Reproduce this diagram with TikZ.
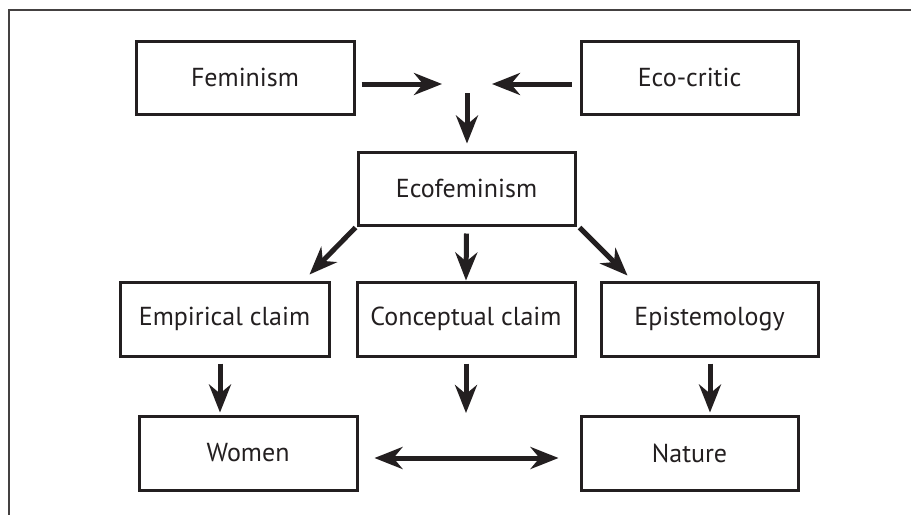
\documentclass[tikz,border=0pt]{standalone}
\usepackage{fontspec}
\setmainfont{PT Sans}
\usetikzlibrary{arrows.meta}
\definecolor{ink}{HTML}{231F20}
\begin{document}
\begin{tikzpicture}[x=1pt,y=-1pt,
  box/.style={draw=ink, line width=3pt, minimum width=218pt, minimum height=73pt,
    inner sep=0pt, font=\fontsize{26}{31}\selectfont, text=ink},
  arr/.style={draw=ink, line width=5pt, -{Stealth[length=28pt,width=22pt,inset=9pt]}},
  darr/.style={draw=ink, line width=5pt, {Stealth[length=28pt,width=22pt,inset=9pt]}-{Stealth[length=28pt,width=22pt,inset=9pt]}},
  frame/.style={draw=ink!85, line width=1.5pt}]
\useasboundingbox (0,0) rectangle (911,515);
\draw[frame] (911,10) -- (9,10) -- (9,515);
\node[box] (fem) at (245,77.5) {Feminism};
\node[box, minimum width=217pt] (eco) at (689.5,77.5) {Eco-critic};
\node[box, minimum width=217pt] (ecof) at (466.5,188.5) {Ecofeminism};
\node[box, minimum width=209pt, minimum height=74pt] (emp) at (224.5,319) {Empirical claim};
\node[box, minimum height=74pt] (con) at (466,319) {Conceptual claim};
\node[box, minimum width=217pt, minimum height=74pt] (epi) at (709.5,319) {Epistemology};
\node[box, minimum height=74pt] (wom) at (248,453) {Women};
\node[box, minimum width=217pt, minimum height=74pt] (nat) at (689.5,453) {Nature};
\coordinate (j) at (467,84);
\coordinate (k) at (466,413);
\draw[arr] ([shift={(6,6.5)}]fem.east) -- ([shift={(-25,0)}]j);
\draw[arr] ([shift={(-8,6.5)}]eco.west) -- ([shift={(25,0)}]j);
\draw[arr] ([shift={(0,9)}]j) -- ([shift={(0.5,-7)}]ecof.north);
\draw[arr] ([shift={(-1,1)}]ecof.south west) -- ([shift={(-21,-6)}]emp.north east);
\draw[arr] ([shift={(0,7)}]ecof.south) -- (con.north);
\draw[arr] ([shift={(3,1)}]ecof.south east) -- ([shift={(28,-5)}]epi.north west);
\draw[arr] ([shift={(-4.5,6)}]emp.south) -- ([shift={(-28,-2)}]wom.north);
\draw[arr] ([shift={(0,6)}]con.south) -- (k);
\draw[arr] ([shift={(0.5,6)}]epi.south) -- ([shift={(20.5,-2)}]nat.north);
\draw[darr] ([shift={(16,5)}]wom.east) -- ([shift={(-21,5)}]nat.west);
\end{tikzpicture}
\end{document}
